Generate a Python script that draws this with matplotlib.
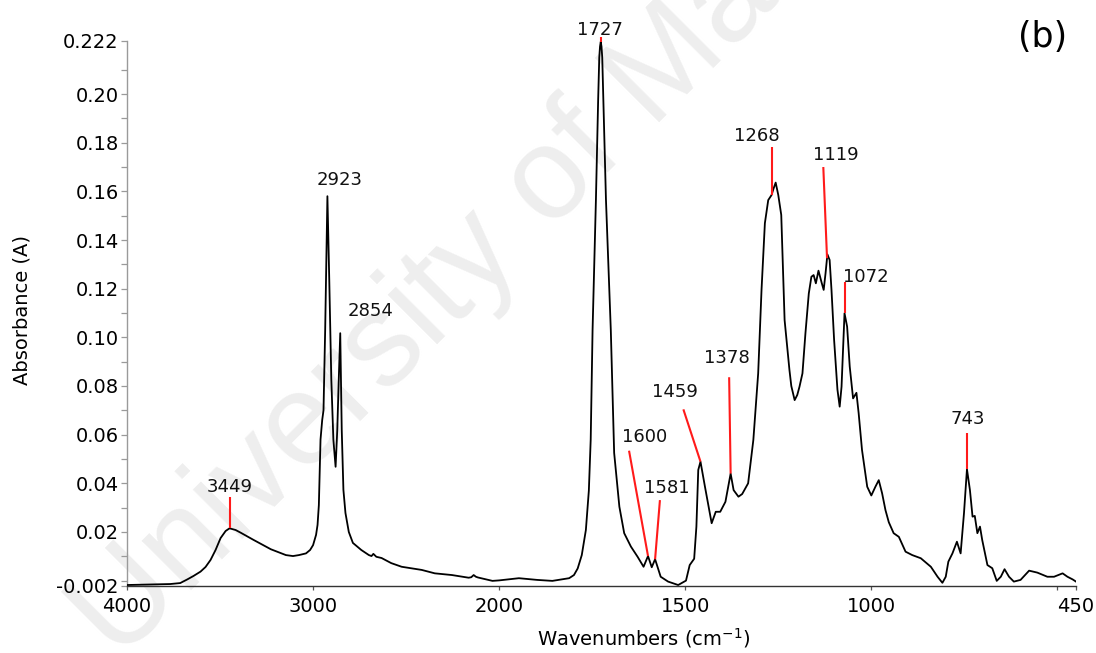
import numpy as np
import matplotlib
matplotlib.use("Agg")
import matplotlib.pyplot as plt
from matplotlib.ticker import FixedLocator, FixedFormatter

# FTIR absorbance spectrum (wavenumber in cm-1, absorbance in A)
wavenumber = np.array([
    4000, 3876, 3768, 3714, 3676, 3643, 3605, 3578, 3551, 3524, 3497, 3470,
    3449, 3416, 3389, 3319, 3227, 3146, 3108, 3076, 3038, 3016, 3000, 2984,
    2976, 2969, 2960, 2951, 2944, 2935, 2923, 2913, 2902, 2891, 2879, 2870,
    2862, 2854, 2846, 2837, 2826, 2808, 2786, 2741, 2700, 2686, 2676, 2660,
    2632, 2580, 2524, 2416, 2346, 2254, 2164, 2150, 2137, 2125, 2114, 2036,
    2000, 1947, 1898, 1857, 1812, 1799, 1789, 1778, 1767, 1759, 1754, 1749,
    1740, 1734, 1731, 1729, 1727, 1725, 1723, 1720, 1713, 1700, 1691, 1677,
    1664, 1646, 1628, 1612,
    1600, 1590, 1581, 1566, 1546, 1519, 1498, 1488, 1476, 1470, 1465, 1459,
    1447, 1429, 1418, 1406, 1392, 1378, 1370, 1357, 1347, 1331, 1317, 1304,
    1295, 1286, 1277, 1268, 1263, 1257, 1250, 1242, 1233, 1220, 1215, 1206,
    1199, 1193, 1185, 1177, 1168, 1161, 1155, 1149, 1142, 1133, 1128, 1123,
    1118, 1112, 1107, 1100, 1091, 1085, 1080, 1075, 1072, 1065, 1058, 1049,
    1040, 1034, 1025, 1011, 1000, 989, 980, 971, 962, 953, 940, 926,
    908, 890, 867, 840, 822, 809, 800, 793, 782, 770, 760, 751,
    743, 735, 728, 722, 715, 708, 702, 688, 675, 663, 652, 642,
    630, 617, 599, 576, 554, 527, 509, 486, 473, 459, 450,
])
absorbance = np.array([
    -0.0018, -0.0016, -0.0014, -0.0010, 0.0005, 0.0019, 0.0037, 0.0056, 0.0085, 0.0126, 0.0175, 0.0204,
    0.0215, 0.0208, 0.0197, 0.0167, 0.0129, 0.0105, 0.0101, 0.0105, 0.0112, 0.0126, 0.0146, 0.0188,
    0.0229, 0.0310, 0.0580, 0.0660, 0.0700, 0.1030, 0.1580, 0.1236, 0.0827, 0.0580, 0.0468, 0.0619,
    0.0827, 0.1017, 0.0620, 0.0373, 0.0278, 0.0200, 0.0155, 0.0126, 0.0105, 0.0101, 0.0110, 0.0098,
    0.0093, 0.0072, 0.0057, 0.0044, 0.0030, 0.0023, 0.0012, 0.0014, 0.0023, 0.0016, 0.0013, -0.0001,
    0.0001, 0.0010, 0.0003, -0.0001, 0.0010, 0.0023, 0.0050, 0.0105, 0.0208, 0.0370, 0.0580, 0.1030,
    0.1565, 0.1976, 0.2150, 0.2195, 0.2215, 0.2195, 0.2150, 0.1976, 0.1565, 0.1030, 0.0525, 0.0304,
    0.0195, 0.0140, 0.0098, 0.0057,
    0.0101, 0.0055, 0.0088, 0.0016, -0.0004, -0.0018, 0.0000, 0.0064, 0.0090, 0.0222, 0.0455, 0.0489,
    0.0386, 0.0236, 0.0283, 0.0283, 0.0324, 0.0440, 0.0372, 0.0345, 0.0356, 0.0400, 0.0578, 0.0852,
    0.1195, 0.1469, 0.1564, 0.1585, 0.1610, 0.1636, 0.1585, 0.1503, 0.1071, 0.0866, 0.0800, 0.0742,
    0.0763, 0.0797, 0.0852, 0.1017, 0.1180, 0.1249, 0.1256, 0.1222, 0.1274, 0.1222, 0.1195, 0.1263,
    0.1341, 0.1318, 0.1195, 0.0990, 0.0785, 0.0715, 0.0797, 0.0990, 0.1099, 0.1044, 0.0880, 0.0749,
    0.0772, 0.0688, 0.0537, 0.0386, 0.0350, 0.0386, 0.0413, 0.0359, 0.0290, 0.0240, 0.0195, 0.0180,
    0.0119, 0.0105, 0.0092, 0.0057, 0.0016, -0.0009, 0.0016, 0.0078, 0.0112, 0.0160, 0.0112, 0.0277,
    0.0458, 0.0372, 0.0263, 0.0266, 0.0195, 0.0222, 0.0167, 0.0064, 0.0051, -0.0001, 0.0016, 0.0047,
    0.0016, -0.0004, 0.0003, 0.0041, 0.0033, 0.0016, 0.0016, 0.0030, 0.0016, 0.0005, -0.0004,
])

# Assigned band positions (cm-1)
peak_wn = [3449, 2923, 2854, 1727, 1600, 1581, 1459, 1378, 1268, 1119, 1072, 743]

# Label placement: text centre and top of the red leader (None = no leader)
label_xy = [(3449, 0.0383), (2859, 0.1647), (2692, 0.1108), (1728, 0.2264),
            (1608, 0.0590), (1550, 0.0380), (1527, 0.0775), (1388, 0.0917),
            (1308, 0.1829), (1096, 0.1749), (1016, 0.1250), (742, 0.0664)]
leader_top = [(3449, 0.0345), None, None, (1727, 0.2233),
              (1651, 0.0534), (1568, 0.0331), (1505, 0.0704), (1382, 0.0836),
              (1268, 0.1784), (1129, 0.1700), (1072, 0.1229), (743, 0.0606)]

x_ticks = [4000, 3000, 2000, 1500, 1000, 500, 450]
x_tick_labels = ["4000", "3000", "2000", "1500", "1000", "", "450"]
y_ticks = [-0.002, 0.02, 0.04, 0.06, 0.08, 0.10, 0.12, 0.14, 0.16, 0.18, 0.20, 0.222]
y_tick_labels = ["-0.002", "0.02", "0.04", "0.06", "0.08", "0.10", "0.12",
                 "0.14", "0.16", "0.18", "0.20", "0.222"]
y_minor_ticks = [0.00, 0.01, 0.03, 0.05, 0.07, 0.09, 0.11, 0.13, 0.15, 0.17, 0.19, 0.21]


# Region above 2000 cm-1 is shown at half scale
def compress(x):
    x = np.asarray(x, dtype=float)
    return np.where(x > 2000, 2000 + (x - 2000) / 2.0, x)


def expand(t):
    t = np.asarray(t, dtype=float)
    return np.where(t > 2000, 2000 + (t - 2000) * 2.0, t)


plt.rcParams["font.family"] = ["DejaVu Sans"]

fig = plt.figure(figsize=(10.96, 6.53), dpi=100)
fig.patch.set_facecolor("white")

# faint repository watermark behind the plot
fig.text(0.1086, -0.0153, "University of Malaya", rotation=45, rotation_mode="anchor",
         ha="left", va="baseline", fontsize=94, color="#eeeeee",
         family="Liberation Sans", zorder=0)

ax = fig.add_axes([127 / 1096, 67.5 / 653, 949 / 1096, 545 / 653])
ax.set_zorder(1)
ax.patch.set_visible(False)

ax.set_xscale("function", functions=(compress, expand))
ax.plot(wavenumber, absorbance, color="black", lw=1.3, zorder=3,
        solid_joinstyle="round")
ax.set_xlim(4000, 450)
ax.set_ylim(-0.002, 0.222)

wn_sorted = wavenumber[::-1]
ab_sorted = absorbance[::-1]
for wn, (tx, ty), top in zip(peak_wn, label_xy, leader_top):
    ax.text(tx, ty, str(wn), ha="center", va="center", fontsize=13, color="#111111",
            clip_on=False, zorder=4)
    if top is not None:
        y_peak = np.interp(wn, wn_sorted, ab_sorted)
        ax.plot([wn, top[0]], [y_peak, top[1]], color="#ff1a1a", lw=1.5,
                clip_on=False, zorder=4, solid_capstyle="butt")

ax.xaxis.set_major_locator(FixedLocator(x_ticks))
ax.xaxis.set_major_formatter(FixedFormatter(x_tick_labels))
ax.xaxis.set_minor_locator(FixedLocator([]))
ax.yaxis.set_major_locator(FixedLocator(y_ticks))
ax.yaxis.set_major_formatter(FixedFormatter(y_tick_labels))
ax.yaxis.set_minor_locator(FixedLocator(y_minor_ticks))

for side in ("top", "right"):
    ax.spines[side].set_visible(False)
ax.spines["left"].set_color("#9a9a9a")
ax.spines["bottom"].set_color("#333333")
ax.spines["left"].set_linewidth(1.0)
ax.spines["bottom"].set_linewidth(1.0)

ax.tick_params(axis="y", which="both", direction="out", length=4, width=0.9,
               color="#9a9a9a", labelsize=14, pad=2)
ax.tick_params(axis="x", which="major", direction="out", length=3, width=0.9,
               color="#555555", labelsize=14, pad=5)

ax.set_xlabel(r"Wavenumbers (cm$^{-1}$)", fontsize=14)
ax.set_ylabel("Absorbance (A)", fontsize=14)
ax.xaxis.set_label_coords(0.544, -0.096)
ax.yaxis.set_label_coords(-0.1106, 0.5055)
ax.xaxis.label.set_va("center")
ax.yaxis.label.set_va("center")

fig.text(1043 / 1096, 1 - 37 / 653, "(b)", ha="center", va="center", fontsize=25)

fig.savefig("out.png", dpi=100)
